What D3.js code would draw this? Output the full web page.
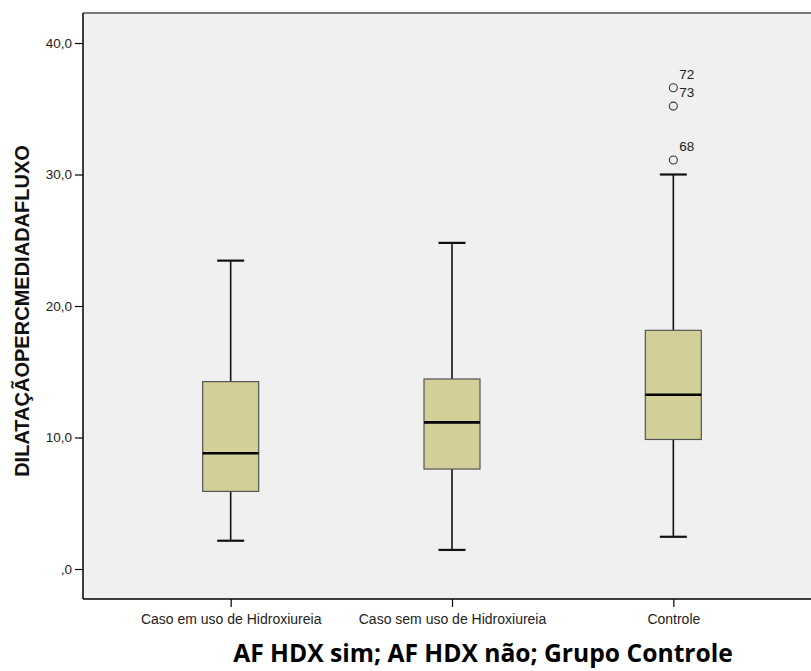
<html lang="pt">

<head>
  <meta charset="UTF-8">
  <title>Boxplot</title>
  <script src="https://d3js.org/d3.v7.min.js"></script>
</head>

<style>
  body {
    margin: 0;
    background: #fff;
  }

  text {
    font-family: "Liberation Sans", Arial, sans-serif;
  }

  .y.axis .domain,
  .x.axis .domain {
    stroke: #000;
    stroke-width: 1.5px;
  }

  .axis line {
    stroke: #000;
    stroke-width: 1.2px;
  }
</style>

<body>
  <svg class="boxsvg" width="811" height="671"></svg>
  <script>
    // groups and five-number summaries
    const groups = ['Caso em uso de Hidroxiureia', 'Caso sem uso de Hidroxiureia', 'Controle'];
    const whiskerLow = [2.15, 1.45, 2.45];
    const q1 = [5.9, 7.6, 9.85];
    const median = [8.8, 11.15, 13.25];
    const q3 = [14.25, 14.45, 18.15];
    const whiskerHigh = [23.45, 24.8, 30.0];
    // outliers (only in Controle)
    const outGroup = ['Controle', 'Controle', 'Controle'];
    const outValue = [36.6, 35.2, 31.1];
    const outLabel = ['72', '73', '68'];
    const yTicks = [0, 10, 20, 30, 40];

    const svg = d3.select('svg.boxsvg');
    const margins = { top: 13, right: -12, bottom: 72, left: 83 };
    const width = +svg.attr('width');
    const height = +svg.attr('height');
    const chartWidth = width - margins.left - margins.right;
    const chartHeight = height - margins.top - margins.bottom;

    let chartArea = svg.append('g')
      .attr('transform', `translate(${margins.left},${margins.top})`);

    // plot background + top border
    chartArea.append('rect')
      .attr('width', chartWidth)
      .attr('height', chartHeight)
      .attr('fill', '#f0f0f0');
    chartArea.append('line')
      .attr('x1', 0).attr('x2', chartWidth)
      .attr('y1', 0).attr('y2', 0)
      .attr('stroke', '#7a7a7a')
      .attr('stroke-width', 2);

    // scales
    const xScale = d3.scaleBand().domain(groups).range([37, 701]);
    const yScale = d3.scaleLinear().domain([0, 40]).range([556, 30]);
    const cx = g => xScale(g) + xScale.bandwidth() / 2;
    const boxW = 56;
    const capW = 27;

    // axes
    let leftAxis = d3.axisLeft(yScale)
      .tickValues(yTicks)
      .tickSize(8)
      .tickPadding(3)
      .tickFormat(d => d === 0 ? ',0' : d3.format('.1f')(d).replace('.', ','));
    let yAx = chartArea.append('g')
      .attr('class', 'y axis')
      .call(leftAxis);
    yAx.select('.domain').attr('d', `M0,0V${chartHeight}`);
    yAx.selectAll('text')
      .style('font-size', '13.5px')
      .attr('fill', '#222');

    let bottomAxis = d3.axisBottom(d3.scalePoint().domain(groups).range([cx(groups[0]), cx(groups[2])]))
      .tickSize(8)
      .tickPadding(7);
    let xAx = chartArea.append('g')
      .attr('class', 'x axis')
      .attr('transform', `translate(0,${chartHeight})`)
      .call(bottomAxis);
    xAx.select('.domain').attr('d', `M0,0H${chartWidth}`);
    xAx.selectAll('text')
      .style('font-size', '14px')
      .attr('fill', '#222');

    // boxes
    groups.forEach((g, i) => {
      const x = cx(g);
      let bg = chartArea.append('g');
      // whiskers
      bg.append('line')
        .attr('x1', x).attr('x2', x)
        .attr('y1', yScale(whiskerHigh[i])).attr('y2', yScale(q3[i]))
        .attr('stroke', '#111').attr('stroke-width', 1.6);
      bg.append('line')
        .attr('x1', x).attr('x2', x)
        .attr('y1', yScale(q1[i])).attr('y2', yScale(whiskerLow[i]))
        .attr('stroke', '#111').attr('stroke-width', 1.6);
      [whiskerHigh[i], whiskerLow[i]].forEach(v => {
        bg.append('line')
          .attr('x1', x - capW / 2).attr('x2', x + capW / 2)
          .attr('y1', yScale(v)).attr('y2', yScale(v))
          .attr('stroke', '#111').attr('stroke-width', 2.2);
      });
      // box
      bg.append('rect')
        .attr('x', x - boxW / 2)
        .attr('y', yScale(q3[i]))
        .attr('width', boxW)
        .attr('height', yScale(q1[i]) - yScale(q3[i]))
        .attr('fill', '#d3cf98')
        .attr('stroke', '#555')
        .attr('stroke-width', 1.2);
      // median
      bg.append('line')
        .attr('x1', x - boxW / 2).attr('x2', x + boxW / 2)
        .attr('y1', yScale(median[i])).attr('y2', yScale(median[i]))
        .attr('stroke', '#000').attr('stroke-width', 2.6);
    });

    // outliers
    outValue.forEach((v, i) => {
      const x = cx(outGroup[i]);
      chartArea.append('circle')
        .attr('cx', x)
        .attr('cy', yScale(v))
        .attr('r', 4)
        .attr('fill', 'none')
        .attr('stroke', '#333')
        .attr('stroke-width', 1.1);
      chartArea.append('text')
        .attr('x', x + 6)
        .attr('y', yScale(v) - 9)
        .style('font-size', '13.5px')
        .attr('fill', '#222')
        .text(outLabel[i]);
    });

    // y label
    let yLabel = svg.append('text')
      .attr('transform', `translate(29,311) rotate(-90)`)
      .attr('text-anchor', 'middle')
      .style('font-size', '17px')
      .style('font-weight', 'bold')
      .attr('fill', '#111')
      .text('DILATAÇÃOPERCMEDIADAFLUXO');
    const yLen = yLabel.node().getComputedTextLength();
    yLabel.style('font-size', (17 * 332 / yLen) + 'px'); //original label runs ~332px

    // title under the chart
    let title = svg.append('text')
      .attr('x', 483)
      .attr('y', 662)
      .attr('text-anchor', 'middle')
      .style('font-family', '"Open Sans", sans-serif')
      .style('font-size', '24px')
      .style('font-weight', 'bold')
      .attr('fill', '#000')
      .text('AF HDX sim; AF HDX não; Grupo Controle');
    const tLen = title.node().getComputedTextLength();
    title.style('font-size', (24 * 500 / tLen) + 'px'); //fit to ~500px like the original
  </script>
</body>

</html>
